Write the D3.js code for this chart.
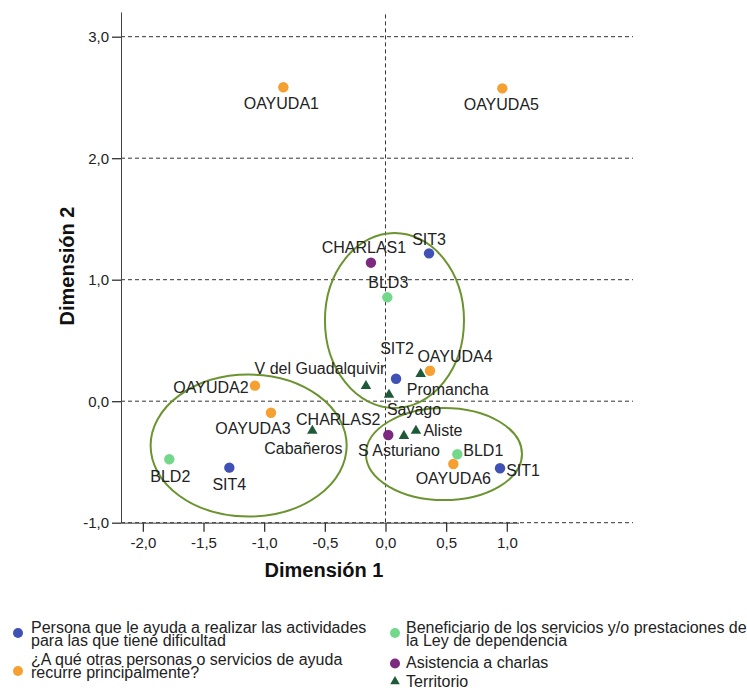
<!DOCTYPE html>
<html><head><meta charset="utf-8">
<script src="https://cdn.jsdelivr.net/npm/d3@7"></script>
<style>
body{margin:0;background:#fff;}
text{font-family:"Liberation Sans", Arial, sans-serif;}
</style>
</head><body>
<svg id="chart" width="747" height="688"></svg>
<script>
// ---------- DATA ----------
const groupNames = [
  ["Persona que le ayuda a realizar las actividades", "para las que tiene dificultad"],
  ["¿A qué otras personas o servicios de ayuda", "recurre principalmente?"],
  ["Beneficiario de los servicios y/o prestaciones de", "la Ley de dependencia"],
  ["Asistencia a charlas"],
  ["Territorio"]
];
const sitLabels = ["SIT1", "SIT2", "SIT3", "SIT4"];
const sitX = [0.944, 0.087, 0.359, -1.287];
const sitY = [-0.552, 0.185, 1.217, -0.547];

const ayudaLabels = ["OAYUDA1", "OAYUDA2", "OAYUDA3", "OAYUDA4", "OAYUDA5", "OAYUDA6"];
const ayudaX = [-0.842, -1.076, -0.944, 0.367, 0.963, 0.559];
const ayudaY = [2.584, 0.128, -0.095, 0.251, 2.575, -0.517];

const bldLabels = ["BLD1", "BLD2", "BLD3"];
const bldX = [0.592, -1.782, 0.015];
const bldY = [-0.437, -0.478, 0.855];

const charlasLabels = ["CHARLAS1", "CHARLAS2"];
const charlasX = [-0.12, 0.023];
const charlasY = [1.14, -0.278];

const terrLabels = ["Promancha", "V del Guadalquivir", "Sayago", "Cabañeros", "S Asturiano", "Aliste"];
const terrX = [0.29, -0.161, 0.029, -0.603, 0.152, 0.251];
const terrY = [0.224, 0.125, 0.053, -0.243, -0.286, -0.243];

const xTicks = [-2.0, -1.5, -1.0, -0.5, 0.0, 0.5, 1.0];
const yTicks = [-1.0, 0.0, 1.0, 2.0, 3.0];

// annotation ellipses in data units: cx, cy, rx, ry
const ellipseCX = [0.074, -1.128, 0.482];
const ellipseCY = [0.664, -0.365, -0.435];
const ellipseRX = [0.573, 0.808, 0.643];
const ellipseRY = [0.72, 0.584, 0.379];

// ---------- LAYOUT / STYLE ----------
const colors = ["#3f51b5", "#f5a030", "#74d88a", "#7b2a7f", "#1e5a38"];
const labelOffsets = {
  "SIT1":[23,8], "SIT2":[1,-25], "SIT3":[0,-8], "SIT4":[0,22],
  "OAYUDA1":[-2,22], "OAYUDA2":[-44,7], "OAYUDA3":[-18,21], "OAYUDA4":[25,-9], "OAYUDA5":[-1,22], "OAYUDA6":[0,20],
  "BLD1":[26,2], "BLD2":[1,23], "BLD3":[1,-9],
  "CHARLAS1":[-7,-10], "CHARLAS2":[-50,-10],
  "Promancha":[27,21], "V del Guadalquivir":[-46,-12], "Sayago":[25,20], "Cabañeros":[-9,23], "S Asturiano":[-5,20], "Aliste":[27,5]
};

const svg = d3.select("#chart");
const pLeft = 121, pRight = 633, pTop = 12.4, pBottom = 522.7;
const x = d3.scaleLinear().domain([-2.18, 2.04]).range([pLeft, pRight]);
const y = d3.scaleLinear().domain([-1.0, 3.2]).range([pBottom, pTop]);
const fmt = v => d3.format(".1f")(v).replace("−", "-").replace(".", ",");

// reference (dashed) lines
const grid = svg.append("g").attr("stroke", "#333").attr("stroke-width", 1).attr("stroke-dasharray", "4,3");
yTicks.forEach(t => {
  grid.append("line").attr("x1", pLeft).attr("x2", pRight).attr("y1", y(t)).attr("y2", y(t));
});
grid.append("line").attr("x1", x(0)).attr("x2", x(0)).attr("y1", pTop + 2).attr("y2", pBottom);

// axes
const xAxis = d3.axisBottom(x).tickValues(xTicks).tickFormat(fmt).tickSize(9).tickSizeOuter(0);
const yAxis = d3.axisLeft(y).tickValues(yTicks).tickFormat(fmt).tickSize(9).tickSizeOuter(0);
const gx = svg.append("g").attr("transform", `translate(0,${pBottom})`).call(xAxis);
const gy = svg.append("g").attr("transform", `translate(${pLeft},0)`).call(yAxis);
gx.select(".domain").attr("d", `M${pLeft},0.5H${x(1.1)}`).attr("stroke", "#444");
gy.select(".domain").attr("d", `M0.5,${pTop}V${pBottom}`).attr("stroke", "#444");
[gx, gy].forEach(g => {
  g.selectAll(".tick line").attr("stroke", "#333").attr("stroke-width", 1.3);
  g.selectAll(".tick text").attr("font-size", 15).attr("fill", "#222")
   .style("font-family", '"Liberation Sans", Arial, sans-serif');
});
gx.selectAll(".tick text").attr("dy", "1.05em").attr("y", 10);
gy.selectAll(".tick text").attr("x", -12);

// axis titles
svg.append("text").attr("x", 324).attr("y", 577).attr("text-anchor", "middle")
  .attr("font-size", 20).attr("font-weight", "bold").attr("fill", "#111").text("Dimensión 1");
svg.append("text").attr("transform", "translate(74,266) rotate(-90)").attr("text-anchor", "middle")
  .attr("font-size", 20).attr("font-weight", "bold").attr("fill", "#111").text("Dimensión 2");

// ellipses
svg.append("g").selectAll("ellipse").data(ellipseCX).join("ellipse")
  .attr("cx", (d, i) => x(ellipseCX[i]))
  .attr("cy", (d, i) => y(ellipseCY[i]))
  .attr("rx", (d, i) => x(ellipseCX[i] + ellipseRX[i]) - x(ellipseCX[i]))
  .attr("ry", (d, i) => y(ellipseCY[i]) - y(ellipseCY[i] + ellipseRY[i]))
  .attr("fill", "none").attr("stroke", "#6b9430").attr("stroke-width", 2);

// points
const series = [
  {labels: sitLabels, xs: sitX, ys: sitY, shape: "circle"},
  {labels: ayudaLabels, xs: ayudaX, ys: ayudaY, shape: "circle"},
  {labels: bldLabels, xs: bldX, ys: bldY, shape: "circle"},
  {labels: charlasLabels, xs: charlasX, ys: charlasY, shape: "circle"},
  {labels: terrLabels, xs: terrX, ys: terrY, shape: "triangle"}
];
const tri = d3.symbol().type(d3.symbolTriangle).size(48);
const pts = svg.append("g");
const lbl = svg.append("g");
series.forEach((s, si) => {
  s.labels.forEach((name, i) => {
    const px = x(s.xs[i]), py = y(s.ys[i]);
    if (s.shape === "circle") {
      pts.append("circle").attr("cx", px).attr("cy", py).attr("r", 5.2).attr("fill", colors[si]);
    } else {
      pts.append("path").attr("d", tri()).attr("transform", `translate(${px},${py})`).attr("fill", colors[si]);
    }
    const off = labelOffsets[name] || [0, 20];
    lbl.append("text").attr("x", px + off[0]).attr("y", py + off[1]).attr("text-anchor", "middle")
      .attr("font-size", 16).attr("fill", "#222").text(name);
  });
});

// legend
const legendPos = [[18, 633, 31, 632.5], [18, 671, 31, 664.5], [395, 633, 406, 632.5], [395, 663.5, 406, 667.5], [395, 681.5, 406, 686.5]];
const lg = svg.append("g");
groupNames.forEach((lines, i) => {
  const [mx, my, tx, ty] = legendPos[i];
  if (i === 4) {
    lg.append("path").attr("d", d3.symbol().type(d3.symbolTriangle).size(40)()).attr("transform", `translate(${mx},${my})`).attr("fill", colors[i]);
  } else {
    lg.append("circle").attr("cx", mx).attr("cy", my).attr("r", 5).attr("fill", colors[i]);
  }
  const t = lg.append("text").attr("x", tx).attr("y", ty).attr("font-size", 16).attr("fill", "#222");
  lines.forEach((ln, j) => {
    t.append("tspan").attr("x", tx).attr("dy", j === 0 ? 0 : 13.5).text(ln);
  });
});
</script>
</body></html>
